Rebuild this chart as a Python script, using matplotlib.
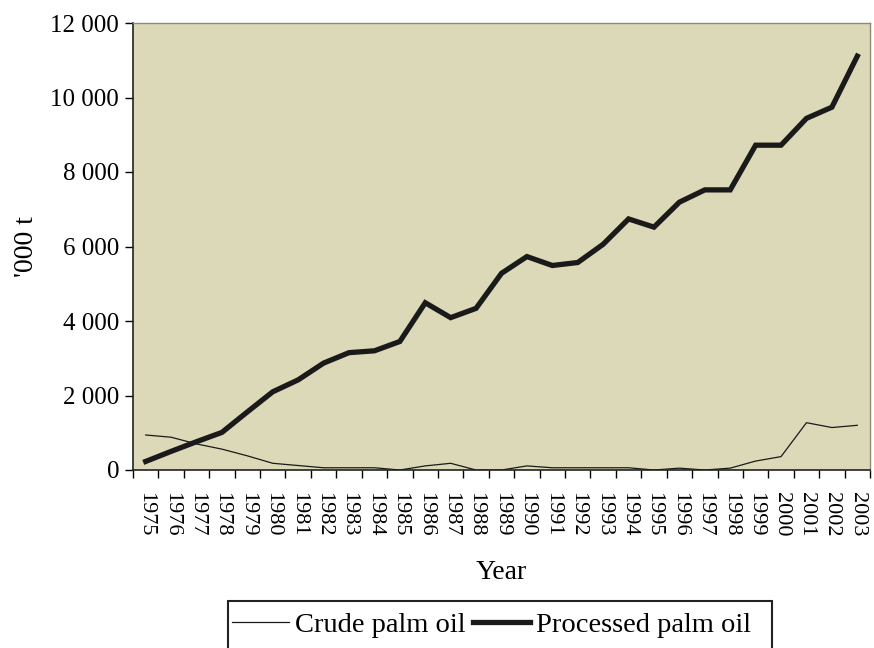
import matplotlib
matplotlib.use("Agg")
import matplotlib.pyplot as plt
from matplotlib.patches import Rectangle
from matplotlib.ticker import FuncFormatter, FixedLocator

plt.rcParams['font.family'] = ['Liberation Serif', 'DejaVu Serif']

# data ('000 t)
years = [str(y) for y in range(1975, 2004)]
crude = [940, 880, 700, 560, 380, 180, 120, 60, 60, 60, 0, 110, 180, 0, 0,
         110, 60, 60, 60, 60, 0, 50, 0, 50, 240, 360, 1270, 1140, 1200]
processed = [230, 500, 760, 1010, 1560, 2100, 2420, 2870, 3150, 3200, 3450, 4490, 4090, 4340, 5280,
             5730, 5490, 5570, 6060, 6740, 6520, 7190, 7520, 7520, 8720, 8720, 9440, 9740, 11110]

fig = plt.figure(figsize=(8.74, 6.48), dpi=100)
ax = fig.add_axes([133 / 874, 1 - 470 / 648, 737 / 874, 447 / 648])
ax.set_facecolor('#dcd9b9')

x = list(range(len(years)))
ax.plot(x, crude, color='#1a1a1a', lw=0.9, label='Crude palm oil')
ax.plot(x, processed, color='#1a1a1a', lw=3.8, solid_joinstyle='miter', label='Processed palm oil')

ax.set_xlim(-0.5, len(years) - 0.5)
ax.set_ylim(0, 12000)
ax.set_yticks(range(0, 12001, 2000))
ax.yaxis.set_major_formatter(FuncFormatter(lambda v, p: '{:,.0f}'.format(v).replace(',', ' ')))

ax.set_xticks(x)
ax.set_xticklabels(years, rotation=270, fontsize=16)
ax.xaxis.set_minor_locator(FixedLocator([i - 0.5 for i in range(len(years) + 1)]))
ax.tick_params(axis='x', which='major', length=0, pad=15.5)
ax.tick_params(axis='x', which='minor', length=6, width=1, direction='out')
ax.tick_params(axis='y', length=6, width=1, labelsize=18, pad=4)

for s in ['left', 'bottom']:
    ax.spines[s].set_color('#222222')
    ax.spines[s].set_linewidth(1.2)
for s in ['top', 'right']:
    ax.spines[s].set_color('#8c8a78')
    ax.spines[s].set_linewidth(1.0)

ax.set_xlabel('Year', fontsize=20, labelpad=17)
ax.set_ylabel("'000 t", fontsize=20, labelpad=8)

# legend without its own frame, box drawn separately (runs off the bottom edge)
leg = fig.legend(loc='center left', bbox_to_anchor=(232 / 874, 1 - 625 / 648), ncol=2,
                 fontsize=20.5, frameon=False, borderaxespad=0, borderpad=0,
                 handlelength=2.0, handletextpad=0.22, columnspacing=0.25)
fig.patches.append(Rectangle((228 / 874, -0.05), (772 - 228) / 874, 0.05 + 1 - 601 / 648,
                             transform=fig.transFigure, fill=False,
                             edgecolor='#222222', lw=1.5))

fig.savefig('out.png', dpi=100)
